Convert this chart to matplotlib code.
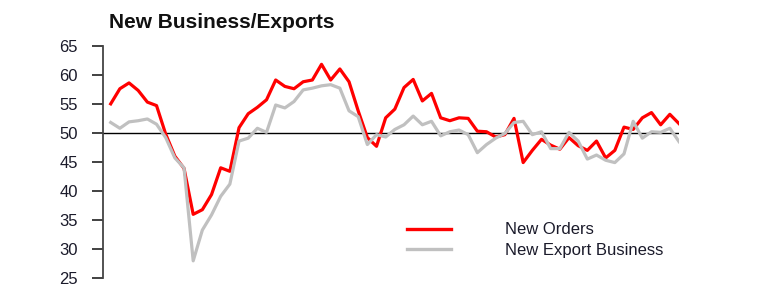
import matplotlib
matplotlib.use("Agg")
import matplotlib.pyplot as plt
from matplotlib.lines import Line2D
import numpy as np

plt.rcParams['font.family'] = ['Liberation Sans', 'DejaVu Sans']

# monthly readings
new_orders = [55.0, 57.6, 58.6, 57.3, 55.3, 54.7, 49.8, 46.0, 43.9, 36.0,
              36.8, 39.4, 44.0, 43.4, 50.9, 53.3, 54.4, 55.7, 59.1, 58.0,
              57.6, 58.8, 59.1, 61.8, 59.1, 61.0, 58.8, 53.8, 49.2, 47.7,
              52.6, 54.1, 57.8, 59.2, 55.5, 56.8, 52.6, 52.1, 52.6, 52.5,
              50.3, 50.2, 49.3, 49.7, 52.5, 44.9, 47.0, 48.9, 47.9, 47.2,
              49.2, 47.8, 47.0, 48.6, 45.7, 47.0, 51.0, 50.6, 52.6, 53.5,
              51.4, 53.2, 51.6]
new_export = [51.8, 50.8, 51.9, 52.1, 52.4, 51.5, 49.2, 45.7, 44.0, 28.0,
              33.3, 35.9, 39.1, 41.2, 48.6, 49.1, 50.8, 50.1, 54.8, 54.3,
              55.4, 57.4, 57.7, 58.1, 58.3, 57.7, 53.8, 52.8, 48.0, 49.7,
              49.3, 50.6, 51.4, 52.9, 51.4, 52.0, 49.5, 50.2, 50.5, 49.7,
              46.6, 48.0, 49.1, 49.9, 51.8, 52.0, 49.7, 50.2, 47.3, 47.3,
              50.1, 48.6, 45.5, 46.2, 45.3, 44.9, 46.4, 52.0, 49.1, 50.2,
              50.1, 50.8, 48.5]
series_labels = ["New Orders", "New Export Business"]
series_colors = ['#ff0000', '#c0c0c0']
yticks = [25, 30, 35, 40, 45, 50, 55, 60, 65]

W, H = 771, 294
x = np.arange(len(new_orders))

fig = plt.figure(figsize=(W / 100, H / 100), dpi=100)
ax = fig.add_axes([103 / W, 1 - 278.3 / H, (679 - 103) / W, (278.3 - 45.7) / H])

ax.axhline(50, color='black', lw=1.0, zorder=1)
ax.plot(x, new_orders, color=series_colors[0], lw=2.3, zorder=2)
ax.plot(x, new_export, color=series_colors[1], lw=2.3, zorder=3)

ax.set_xlim(-0.84, len(x) - 1)
ax.set_ylim(25, 65)
ax.set_yticks(yticks)
ax.set_xticks([])
for s in ['top', 'right', 'bottom']:
    ax.spines[s].set_visible(False)
ax.spines['left'].set_color('#444444')
ax.spines['left'].set_linewidth(1.3)
ax.tick_params(axis='y', length=8, width=1.3, color='#333333', pad=10,
               labelsize=12, labelcolor='#1a1a2a')

fig.text(109 / W, 1 - 27.7 / H, "New Business/Exports", fontsize=15,
         fontweight='bold', color='#111111', va='baseline')

# legend drawn by hand: short line, wide gap, label
for i, (lab, col) in enumerate(zip(series_labels, series_colors)):
    yl = 228.5 + i * 20.5
    fig.add_artist(Line2D([407 / W, 451 / W], [1 - yl / H, 1 - yl / H],
                          color=col, lw=2.4, transform=fig.transFigure))
    fig.text(505 / W, 1 - (yl + 5.8) / H, lab, fontsize=12, color='#1a1a2a',
             va='baseline')

fig.savefig("out.png", dpi=100)
